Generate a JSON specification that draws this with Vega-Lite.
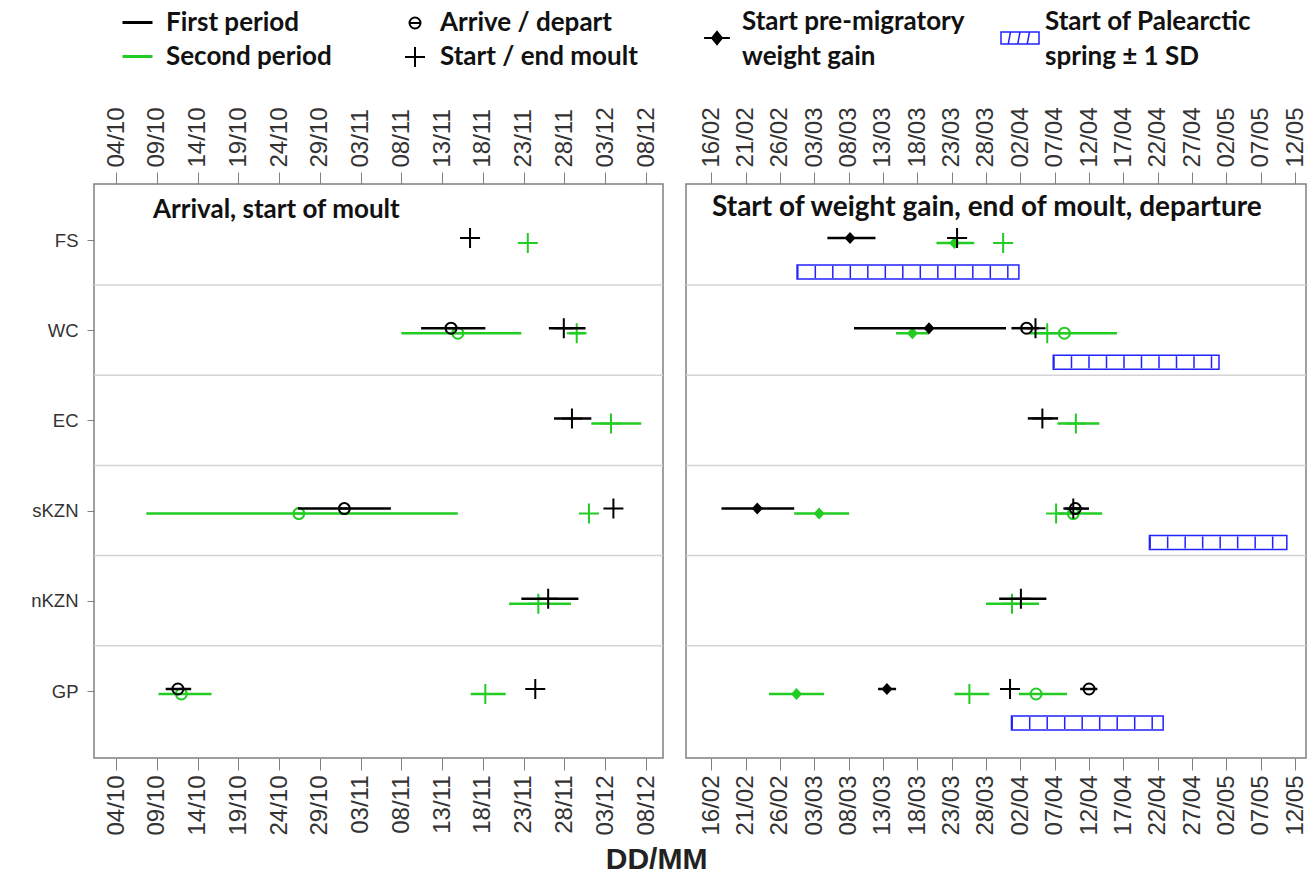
{
  "$schema": "https://vega.github.io/schema/vega-lite/v6.json",
  "padding": 5,
  "background": "white",
  "datasets": {
    "seps": [{"site": "FS"}, {"site": "WC"}, {"site": "EC"}, {"site": "sKZN"}, {"site": "nKZN"}],
    "spring": [
      {"site": "FS", "start": "2022-02-28T12:00:00Z", "end": "2022-04-01T19:00:00Z"},
      {"site": "WC", "start": "2022-04-06T19:00:00Z", "end": "2022-04-30T22:00:00Z"},
      {"site": "sKZN", "start": "2022-04-20T19:00:00Z", "end": "2022-05-10T19:00:00Z"},
      {"site": "GP", "start": "2022-03-31T17:00:00Z", "end": "2022-04-22T19:00:00Z"}
    ],
    "pts": [
      {"panel": "L", "site": "FS", "period": "First period", "marker": "Start / end moult", "date": "2021-11-16T10:00:00Z"},
      {"panel": "L", "site": "FS", "period": "Second period", "marker": "Start / end moult", "date": "2021-11-23T12:00:00Z"},
      {"panel": "L", "site": "WC", "period": "First period", "marker": "Arrive / depart", "date": "2021-11-14T02:00:00Z", "lo": "2021-11-10T10:00:00Z", "hi": "2021-11-18T07:00:00Z"},
      {"panel": "L", "site": "WC", "period": "Second period", "marker": "Arrive / depart", "date": "2021-11-14T22:00:00Z", "lo": "2021-11-08T00:00:00Z", "hi": "2021-11-22T17:00:00Z"},
      {"panel": "L", "site": "WC", "period": "First period", "marker": "Start / end moult", "date": "2021-11-27T22:00:00Z", "lo": "2021-11-26T02:00:00Z", "hi": "2021-11-30T14:00:00Z"},
      {"panel": "L", "site": "WC", "period": "Second period", "marker": "Start / end moult", "date": "2021-11-29T12:00:00Z", "lo": "2021-11-28T14:00:00Z", "hi": "2021-11-30T12:00:00Z"},
      {"panel": "L", "site": "EC", "period": "First period", "marker": "Start / end moult", "date": "2021-11-28T22:00:00Z", "lo": "2021-11-26T17:00:00Z", "hi": "2021-12-01T07:00:00Z"},
      {"panel": "L", "site": "EC", "period": "Second period", "marker": "Start / end moult", "date": "2021-12-03T17:00:00Z", "lo": "2021-12-01T07:00:00Z", "hi": "2021-12-07T10:00:00Z"},
      {"panel": "L", "site": "sKZN", "period": "First period", "marker": "Arrive / depart", "date": "2021-11-01T00:00:00Z", "lo": "2021-10-26T07:00:00Z", "hi": "2021-11-06T17:00:00Z"},
      {"panel": "L", "site": "sKZN", "period": "Second period", "marker": "Arrive / depart", "date": "2021-10-26T10:00:00Z", "lo": "2021-10-07T17:00:00Z", "hi": "2021-11-14T22:00:00Z"},
      {"panel": "L", "site": "sKZN", "period": "Second period", "marker": "Start / end moult", "date": "2021-12-01T00:00:00Z"},
      {"panel": "L", "site": "sKZN", "period": "First period", "marker": "Start / end moult", "date": "2021-12-04T00:00:00Z"},
      {"panel": "L", "site": "nKZN", "period": "First period", "marker": "Start / end moult", "date": "2021-11-26T00:00:00Z", "lo": "2021-11-22T17:00:00Z", "hi": "2021-11-29T17:00:00Z"},
      {"panel": "L", "site": "nKZN", "period": "Second period", "marker": "Start / end moult", "date": "2021-11-24T19:00:00Z", "lo": "2021-11-21T05:00:00Z", "hi": "2021-11-28T19:00:00Z"},
      {"panel": "L", "site": "GP", "period": "First period", "marker": "Arrive / depart", "date": "2021-10-11T14:00:00Z", "lo": "2021-10-10T02:00:00Z", "hi": "2021-10-13T05:00:00Z"},
      {"panel": "L", "site": "GP", "period": "Second period", "marker": "Arrive / depart", "date": "2021-10-12T00:00:00Z", "lo": "2021-10-09T05:00:00Z", "hi": "2021-10-15T17:00:00Z"},
      {"panel": "L", "site": "GP", "period": "Second period", "marker": "Start / end moult", "date": "2021-11-18T07:00:00Z", "lo": "2021-11-16T12:00:00Z", "hi": "2021-11-20T19:00:00Z"},
      {"panel": "L", "site": "GP", "period": "First period", "marker": "Start / end moult", "date": "2021-11-24T10:00:00Z"},

      {"panel": "R", "site": "FS", "period": "First period", "marker": "gain", "date": "2022-03-08T05:00:00Z", "lo": "2022-03-04T22:00:00Z", "hi": "2022-03-11T22:00:00Z"},
      {"panel": "R", "site": "FS", "period": "Second period", "marker": "gain", "date": "2022-03-23T10:00:00Z", "lo": "2022-03-20T19:00:00Z", "hi": "2022-03-26T07:00:00Z"},
      {"panel": "R", "site": "FS", "period": "First period", "marker": "Start / end moult", "date": "2022-03-23T19:00:00Z"},
      {"panel": "R", "site": "FS", "period": "Second period", "marker": "Start / end moult", "date": "2022-03-30T12:00:00Z"},
      {"panel": "R", "site": "WC", "period": "First period", "marker": "gain", "date": "2022-03-19T17:00:00Z", "lo": "2022-03-08T19:00:00Z", "hi": "2022-03-30T22:00:00Z"},
      {"panel": "R", "site": "WC", "period": "Second period", "marker": "gain", "date": "2022-03-17T07:00:00Z", "lo": "2022-03-14T22:00:00Z", "hi": "2022-03-19T17:00:00Z"},
      {"panel": "R", "site": "WC", "period": "First period", "marker": "Arrive / depart", "date": "2022-04-02T22:00:00Z", "lo": "2022-03-31T17:00:00Z", "hi": "2022-04-04T17:00:00Z"},
      {"panel": "R", "site": "WC", "period": "First period", "marker": "Start / end moult", "date": "2022-04-04T05:00:00Z"},
      {"panel": "R", "site": "WC", "period": "Second period", "marker": "Start / end moult", "date": "2022-04-05T22:00:00Z"},
      {"panel": "R", "site": "WC", "period": "Second period", "marker": "Arrive / depart", "date": "2022-04-08T10:00:00Z", "lo": "2022-04-03T07:00:00Z", "hi": "2022-04-16T02:00:00Z"},
      {"panel": "R", "site": "EC", "period": "First period", "marker": "Start / end moult", "date": "2022-04-05T05:00:00Z", "lo": "2022-04-03T02:00:00Z", "hi": "2022-04-07T12:00:00Z"},
      {"panel": "R", "site": "EC", "period": "Second period", "marker": "Start / end moult", "date": "2022-04-10T02:00:00Z", "lo": "2022-04-07T10:00:00Z", "hi": "2022-04-13T12:00:00Z"},
      {"panel": "R", "site": "sKZN", "period": "First period", "marker": "gain", "date": "2022-02-22T17:00:00Z", "lo": "2022-02-17T12:00:00Z", "hi": "2022-02-28T02:00:00Z"},
      {"panel": "R", "site": "sKZN", "period": "Second period", "marker": "gain", "date": "2022-03-03T17:00:00Z", "lo": "2022-02-28T02:00:00Z", "hi": "2022-03-08T02:00:00Z"},
      {"panel": "R", "site": "sKZN", "period": "Second period", "marker": "Start / end moult", "date": "2022-04-07T05:00:00Z"},
      {"panel": "R", "site": "sKZN", "period": "First period", "marker": "Start / end moult", "date": "2022-04-09T17:00:00Z"},
      {"panel": "R", "site": "sKZN", "period": "First period", "marker": "Arrive / depart", "date": "2022-04-10T00:00:00Z", "lo": "2022-04-08T10:00:00Z", "hi": "2022-04-12T00:00:00Z"},
      {"panel": "R", "site": "sKZN", "period": "Second period", "marker": "Arrive / depart", "date": "2022-04-09T17:00:00Z", "lo": "2022-04-07T10:00:00Z", "hi": "2022-04-13T22:00:00Z"},
      {"panel": "R", "site": "nKZN", "period": "First period", "marker": "Start / end moult", "date": "2022-04-02T02:00:00Z", "lo": "2022-03-29T22:00:00Z", "hi": "2022-04-05T19:00:00Z"},
      {"panel": "R", "site": "nKZN", "period": "Second period", "marker": "Start / end moult", "date": "2022-03-31T19:00:00Z", "lo": "2022-03-28T00:00:00Z", "hi": "2022-04-04T17:00:00Z"},
      {"panel": "R", "site": "GP", "period": "Second period", "marker": "gain", "date": "2022-02-28T10:00:00Z", "lo": "2022-02-24T10:00:00Z", "hi": "2022-03-04T10:00:00Z"},
      {"panel": "R", "site": "GP", "period": "First period", "marker": "gain", "date": "2022-03-13T14:00:00Z", "lo": "2022-03-12T07:00:00Z", "hi": "2022-03-14T22:00:00Z"},
      {"panel": "R", "site": "GP", "period": "Second period", "marker": "Start / end moult", "date": "2022-03-25T14:00:00Z", "lo": "2022-03-23T10:00:00Z", "hi": "2022-03-28T12:00:00Z"},
      {"panel": "R", "site": "GP", "period": "First period", "marker": "Start / end moult", "date": "2022-03-31T12:00:00Z"},
      {"panel": "R", "site": "GP", "period": "Second period", "marker": "Arrive / depart", "date": "2022-04-04T07:00:00Z", "lo": "2022-04-01T19:00:00Z", "hi": "2022-04-08T19:00:00Z"},
      {"panel": "R", "site": "GP", "period": "First period", "marker": "Arrive / depart", "date": "2022-04-12T00:00:00Z", "lo": "2022-04-10T17:00:00Z", "hi": "2022-04-13T05:00:00Z"}
    ]
  },
  "title": {"text": "DD/MM", "orient": "bottom", "anchor": "middle", "font": "Liberation Sans", "fontSize": 30, "fontWeight": "bold", "color": "#222222", "offset": 9},
  "spacing": 19,
  "resolve": {"scale": {"x": "independent", "y": "independent"}},
  "hconcat": [
    {
      "width": 569,
      "height": 574,
      "title": {"text": "Arrival, start of moult", "orient": "top", "anchor": "start", "frame": "group", "offset": -238, "dx": 59, "baseline": "alphabetic", "font": "Lato", "fontSize": 26, "fontWeight": "bold", "color": "#111111"},
      "resolve": {"axis": {"x": "independent"}},
      "layer": [
        {
          "data": {"name": "seps"},
          "mark": {"type": "rule", "color": "#d4d4d4", "strokeWidth": 1.5, "yOffset": 45},
          "encoding": {
            "y": {"field": "site", "type": "nominal",
                  "scale": {"type": "point", "domain": ["FS", "WC", "EC", "sKZN", "nKZN", "GP"], "range": [56, 507], "padding": 0},
                  "axis": {"orient": "left", "title": null, "labelFont": "Liberation Sans", "labelFontSize": 18.5, "labelColor": "#333333", "tickSize": 7, "tickColor": "#808080", "labelPadding": 9, "minExtent": 88, "maxExtent": 88, "domain": false, "grid": false}}
          }
        },
        {
          "data": {"name": "pts"},
          "transform": [{"filter": "datum.panel == 'L' && datum.period == 'Second period' && isValid(datum.lo)"}],
          "mark": {"type": "rule", "strokeWidth": 2.5, "yOffset": 3},
          "encoding": {
            "x": {"field": "lo", "type": "temporal",
                  "scale": {"type": "utc", "nice": false, "domain": [{"year": 2021, "month": 10, "date": 1, "hours": 7, "utc": true}, {"year": 2021, "month": 12, "date": 10, "hours": 2, "utc": true}]},
                  "axis": {"orient": "bottom", "title": null, "labelExpr": "utcFormat(datum.value, '%d/%m')", "labelAngle": -90, "labelFont": "Liberation Sans", "labelFontSize": 24, "labelColor": "#333333", "labelPadding": 5, "tickSize": 12, "tickColor": "#808080", "domain": false, "grid": false, "labelOverlap": false, "labelFlush": false,
                    "values": [{"year": 2021, "month": 10, "date": 4, "utc": true}, {"year": 2021, "month": 10, "date": 9, "utc": true}, {"year": 2021, "month": 10, "date": 14, "utc": true}, {"year": 2021, "month": 10, "date": 19, "utc": true}, {"year": 2021, "month": 10, "date": 24, "utc": true}, {"year": 2021, "month": 10, "date": 29, "utc": true}, {"year": 2021, "month": 11, "date": 3, "utc": true}, {"year": 2021, "month": 11, "date": 8, "utc": true}, {"year": 2021, "month": 11, "date": 13, "utc": true}, {"year": 2021, "month": 11, "date": 18, "utc": true}, {"year": 2021, "month": 11, "date": 23, "utc": true}, {"year": 2021, "month": 11, "date": 28, "utc": true}, {"year": 2021, "month": 12, "date": 3, "utc": true}, {"year": 2021, "month": 12, "date": 8, "utc": true}]}},
            "x2": {"field": "hi"},
            "y": {"field": "site", "type": "nominal"},
            "color": {"field": "period", "type": "nominal", "scale": {"domain": ["First period", "Second period"], "range": ["#000000", "#22cc22"]},
                      "legend": {"orient": "none", "legendX": 27, "legendY": -178, "title": null, "symbolType": "stroke", "symbolSize": 900, "symbolStrokeWidth": 3, "rowPadding": 4}}
          }
        },
        {
          "data": {"name": "pts"},
          "transform": [{"filter": "datum.panel == 'L' && datum.period == 'Second period'"}],
          "mark": {"type": "point", "filled": false, "strokeWidth": 2, "size": 400, "opacity": 1, "yOffset": 3},
          "encoding": {
            "x": {"field": "date", "type": "temporal",
                  "axis": {"orient": "top", "title": null, "labelExpr": "utcFormat(datum.value, '%d/%m')", "labelAngle": -90, "labelFont": "Liberation Sans", "labelFontSize": 24, "labelColor": "#333333", "labelPadding": 5, "tickSize": 12, "tickColor": "#808080", "domain": false, "grid": false, "labelOverlap": false, "labelFlush": false, "minExtent": 178, "maxExtent": 178,
                    "values": [{"year": 2021, "month": 10, "date": 4, "utc": true}, {"year": 2021, "month": 10, "date": 9, "utc": true}, {"year": 2021, "month": 10, "date": 14, "utc": true}, {"year": 2021, "month": 10, "date": 19, "utc": true}, {"year": 2021, "month": 10, "date": 24, "utc": true}, {"year": 2021, "month": 10, "date": 29, "utc": true}, {"year": 2021, "month": 11, "date": 3, "utc": true}, {"year": 2021, "month": 11, "date": 8, "utc": true}, {"year": 2021, "month": 11, "date": 13, "utc": true}, {"year": 2021, "month": 11, "date": 18, "utc": true}, {"year": 2021, "month": 11, "date": 23, "utc": true}, {"year": 2021, "month": 11, "date": 28, "utc": true}, {"year": 2021, "month": 12, "date": 3, "utc": true}, {"year": 2021, "month": 12, "date": 8, "utc": true}]}},
            "y": {"field": "site", "type": "nominal"},
            "color": {"field": "period", "type": "nominal"},
            "shape": {"field": "marker", "type": "nominal",
                      "scale": {"domain": ["Arrive / depart", "Start / end moult"], "range": ["M-0.55,0A0.55,0.55,0,1,1,0.55,0A0.55,0.55,0,1,1,-0.55,0ZM-0.55,0H0.55", "M-1,0H1M0,-1V1"]},
                      "legend": {"orient": "none", "legendX": 308, "legendY": -174, "title": null, "symbolSize": 400, "symbolStrokeWidth": 2, "symbolStrokeColor": "#000000", "symbolFillColor": "transparent", "rowPadding": 7}}
          }
        },
        {
          "data": {"name": "pts"},
          "transform": [{"filter": "datum.panel == 'L' && datum.period == 'First period' && isValid(datum.lo)"}],
          "mark": {"type": "rule", "strokeWidth": 2.5, "yOffset": -2},
          "encoding": {
            "x": {"field": "lo", "type": "temporal", "axis": null},
            "x2": {"field": "hi"},
            "y": {"field": "site", "type": "nominal"},
            "color": {"field": "period", "type": "nominal"}
          }
        },
        {
          "data": {"name": "pts"},
          "transform": [{"filter": "datum.panel == 'L' && datum.period == 'First period'"}],
          "mark": {"type": "point", "filled": false, "strokeWidth": 2, "size": 400, "opacity": 1, "yOffset": -2},
          "encoding": {
            "x": {"field": "date", "type": "temporal", "axis": null},
            "y": {"field": "site", "type": "nominal"},
            "color": {"field": "period", "type": "nominal"},
            "shape": {"field": "marker", "type": "nominal"}
          }
        }
      ]
    },
    {
      "width": 620,
      "height": 574,
      "title": {"text": "Start of weight gain, end of moult, departure", "orient": "top", "anchor": "start", "frame": "group", "offset": -238, "dx": 26, "baseline": "alphabetic", "font": "Lato", "fontSize": 28, "fontWeight": "bold", "color": "#111111"},
      "resolve": {"axis": {"x": "independent"}},
      "layer": [
        {
          "data": {"name": "seps"},
          "mark": {"type": "rule", "color": "#d4d4d4", "strokeWidth": 1.5, "yOffset": 45},
          "encoding": {
            "y": {"field": "site", "type": "nominal",
                  "scale": {"type": "point", "domain": ["FS", "WC", "EC", "sKZN", "nKZN", "GP"], "range": [56, 507], "padding": 0},
                  "axis": null}
          }
        },
        {
          "data": {"name": "spring"},
          "mark": {"type": "bar", "fill": "white", "stroke": "#2222ff", "strokeWidth": 1.5, "size": 14, "yOffset": 32},
          "encoding": {
            "x": {"field": "start", "type": "temporal",
                  "scale": {"type": "utc", "nice": false, "domain": [{"year": 2022, "month": 2, "date": 12, "hours": 8, "utc": true}, {"year": 2022, "month": 5, "date": 13, "hours": 14, "utc": true}]},
                  "axis": null},
            "x2": {"field": "end"},
            "y": {"field": "site", "type": "nominal"}
          }
        },
        {
          "data": {"name": "spring"},
          "mark": {"type": "rule", "color": "#2222ff", "strokeWidth": 12, "strokeDash": [1.5, 16], "yOffset": 32},
          "encoding": {
            "x": {"field": "start", "type": "temporal", "axis": null},
            "x2": {"field": "end"},
            "y": {"field": "site", "type": "nominal"}
          }
        },
        {
          "data": {"name": "pts"},
          "transform": [{"filter": "datum.panel == 'R' && datum.period == 'Second period' && isValid(datum.lo)"}],
          "mark": {"type": "rule", "strokeWidth": 2.5, "yOffset": 3},
          "encoding": {
            "x": {"field": "lo", "type": "temporal",
                  "axis": {"orient": "bottom", "title": null, "labelExpr": "utcFormat(datum.value, '%d/%m')", "labelAngle": -90, "labelFont": "Liberation Sans", "labelFontSize": 24, "labelColor": "#333333", "labelPadding": 5, "tickSize": 12, "tickColor": "#808080", "domain": false, "grid": false, "labelOverlap": false, "labelFlush": false,
                    "values": [{"year": 2022, "month": 2, "date": 16, "utc": true}, {"year": 2022, "month": 2, "date": 21, "utc": true}, {"year": 2022, "month": 2, "date": 26, "utc": true}, {"year": 2022, "month": 3, "date": 3, "utc": true}, {"year": 2022, "month": 3, "date": 8, "utc": true}, {"year": 2022, "month": 3, "date": 13, "utc": true}, {"year": 2022, "month": 3, "date": 18, "utc": true}, {"year": 2022, "month": 3, "date": 23, "utc": true}, {"year": 2022, "month": 3, "date": 28, "utc": true}, {"year": 2022, "month": 4, "date": 2, "utc": true}, {"year": 2022, "month": 4, "date": 7, "utc": true}, {"year": 2022, "month": 4, "date": 12, "utc": true}, {"year": 2022, "month": 4, "date": 17, "utc": true}, {"year": 2022, "month": 4, "date": 22, "utc": true}, {"year": 2022, "month": 4, "date": 27, "utc": true}, {"year": 2022, "month": 5, "date": 2, "utc": true}, {"year": 2022, "month": 5, "date": 7, "utc": true}, {"year": 2022, "month": 5, "date": 12, "utc": true}]}},
            "x2": {"field": "hi"},
            "y": {"field": "site", "type": "nominal"},
            "color": {"field": "period", "type": "nominal"}
          }
        },
        {
          "data": {"name": "pts"},
          "transform": [{"filter": "datum.panel == 'R' && datum.period == 'Second period' && datum.marker != 'gain'"}],
          "mark": {"type": "point", "filled": false, "strokeWidth": 2, "size": 400, "opacity": 1, "yOffset": 3},
          "encoding": {
            "x": {"field": "date", "type": "temporal",
                  "axis": {"orient": "top", "title": null, "labelExpr": "utcFormat(datum.value, '%d/%m')", "labelAngle": -90, "labelFont": "Liberation Sans", "labelFontSize": 24, "labelColor": "#333333", "labelPadding": 5, "tickSize": 12, "tickColor": "#808080", "domain": false, "grid": false, "labelOverlap": false, "labelFlush": false, "minExtent": 178, "maxExtent": 178,
                    "values": [{"year": 2022, "month": 2, "date": 16, "utc": true}, {"year": 2022, "month": 2, "date": 21, "utc": true}, {"year": 2022, "month": 2, "date": 26, "utc": true}, {"year": 2022, "month": 3, "date": 3, "utc": true}, {"year": 2022, "month": 3, "date": 8, "utc": true}, {"year": 2022, "month": 3, "date": 13, "utc": true}, {"year": 2022, "month": 3, "date": 18, "utc": true}, {"year": 2022, "month": 3, "date": 23, "utc": true}, {"year": 2022, "month": 3, "date": 28, "utc": true}, {"year": 2022, "month": 4, "date": 2, "utc": true}, {"year": 2022, "month": 4, "date": 7, "utc": true}, {"year": 2022, "month": 4, "date": 12, "utc": true}, {"year": 2022, "month": 4, "date": 17, "utc": true}, {"year": 2022, "month": 4, "date": 22, "utc": true}, {"year": 2022, "month": 4, "date": 27, "utc": true}, {"year": 2022, "month": 5, "date": 2, "utc": true}, {"year": 2022, "month": 5, "date": 7, "utc": true}, {"year": 2022, "month": 5, "date": 12, "utc": true}]}},
            "y": {"field": "site", "type": "nominal"},
            "color": {"field": "period", "type": "nominal"},
            "shape": {"field": "marker", "type": "nominal"}
          }
        },
        {
          "data": {"name": "pts"},
          "transform": [{"filter": "datum.panel == 'R' && datum.period == 'Second period' && datum.marker == 'gain'"}],
          "mark": {"type": "point", "filled": true, "shape": "M0,-0.6L0.55,0L0,0.6L-0.55,0Z", "size": 400, "yOffset": 3},
          "encoding": {
            "x": {"field": "date", "type": "temporal", "axis": null},
            "y": {"field": "site", "type": "nominal"},
            "color": {"field": "period", "type": "nominal"},
            "opacity": {"datum": "gain", "type": "nominal", "scale": {"domain": ["gain", "spring"], "range": [1, 1]},
                        "legend": {"orient": "none", "legendX": 610, "legendY": -159, "title": null, "direction": "horizontal", "columns": 2, "columnPadding": 33, "symbolSize": 1444, "symbolStrokeWidth": 2, "symbolFillColor": "#000000", "symbolStrokeColor": "#000000",
                                   "labelExpr": "datum.label == 'gain' ? ['Start pre-migratory', 'weight gain'] : ['Start of Palearctic', 'spring ± 1 SD']",
                                   "encode": {
                                     "labels": {"update": {"lineHeight": {"value": 35}, "dy": {"value": -16}}},
                                     "symbols": {"update": {
                                       "shape": {"signal": "datum.value == 'gain' ? 'M0,-0.32L0.26,0L0,0.32L-0.26,0ZM-0.68,0H0.68' : 'M-1,-0.32H1V0.32H-1ZM-0.62,0.32L-0.5,-0.32M-0.12,0.32L0,-0.32M0.38,0.32L0.5,-0.32'"},
                                       "fill": {"signal": "datum.value == 'gain' ? '#000000' : '#ffffff'"},
                                       "stroke": {"signal": "datum.value == 'gain' ? '#000000' : '#2222ff'"},
                                       "strokeWidth": {"signal": "datum.value == 'gain' ? 2 : 1.5"},
                                       "opacity": {"value": 1}
                                     }}
                                   }}}
          }
        },
        {
          "data": {"name": "pts"},
          "transform": [{"filter": "datum.panel == 'R' && datum.period == 'First period' && isValid(datum.lo)"}],
          "mark": {"type": "rule", "strokeWidth": 2.5, "yOffset": -2},
          "encoding": {
            "x": {"field": "lo", "type": "temporal", "axis": null},
            "x2": {"field": "hi"},
            "y": {"field": "site", "type": "nominal"},
            "color": {"field": "period", "type": "nominal"}
          }
        },
        {
          "data": {"name": "pts"},
          "transform": [{"filter": "datum.panel == 'R' && datum.period == 'First period' && datum.marker != 'gain'"}],
          "mark": {"type": "point", "filled": false, "strokeWidth": 2, "size": 400, "opacity": 1, "yOffset": -2},
          "encoding": {
            "x": {"field": "date", "type": "temporal", "axis": null},
            "y": {"field": "site", "type": "nominal"},
            "color": {"field": "period", "type": "nominal"},
            "shape": {"field": "marker", "type": "nominal"}
          }
        },
        {
          "data": {"name": "pts"},
          "transform": [{"filter": "datum.panel == 'R' && datum.period == 'First period' && datum.marker == 'gain'"}],
          "mark": {"type": "point", "filled": true, "shape": "M0,-0.6L0.55,0L0,0.6L-0.55,0Z", "size": 400, "yOffset": -2},
          "encoding": {
            "x": {"field": "date", "type": "temporal", "axis": null},
            "y": {"field": "site", "type": "nominal"},
            "color": {"field": "period", "type": "nominal"},
            "opacity": {"datum": "gain", "type": "nominal"}
          }
        }
      ]
    }
  ],
  "config": {
    "view": {"stroke": "#808080", "strokeWidth": 1.5},
    "legend": {"labelFont": "Lato", "labelFontSize": 26, "labelFontWeight": "bold", "labelColor": "#111111", "labelLimit": 400, "rowPadding": 9, "labelOffset": 12, "padding": 0}
  }
}
